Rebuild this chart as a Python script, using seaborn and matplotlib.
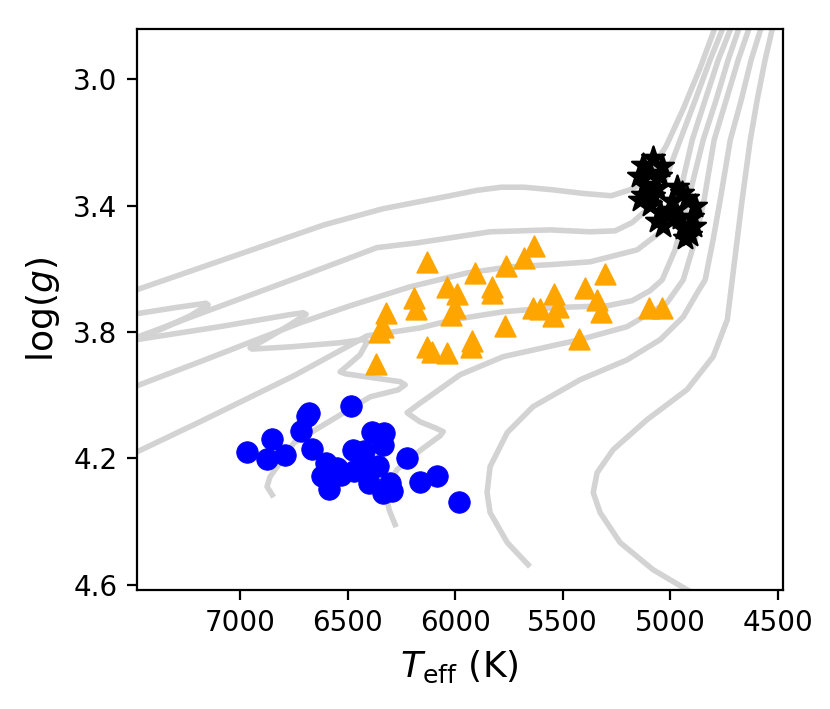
import matplotlib
matplotlib.use("Agg")
import matplotlib.pyplot as plt
import seaborn as sns

# evolutionary tracks (Teff in K, log g)
track1_teff = [7481, 6610, 6336, 6024, 5900, 5786, 5680, 5549, 5400, 5274, 5186, 5125, 5018, 4939, 4860, 4786]
track1_logg = [3.666, 3.461, 3.410, 3.369, 3.352, 3.342, 3.342, 3.350, 3.362, 3.369, 3.350, 3.328, 3.211,
               3.094, 2.964, 2.828]

track2_teff = [7560, 7481, 7304, 7160, 7150, 7234, 7374, 7537, 7188, 6722, 6364, 6177, 5838,
               5558, 5372, 5256, 5177, 5093, 5023, 4953, 4883, 4814, 4748]
track2_logg = [3.752, 3.742, 3.723, 3.709, 3.714, 3.749, 3.793, 3.831, 3.742, 3.625, 3.533, 3.518, 3.483,
               3.477, 3.483, 3.480, 3.454, 3.404, 3.318, 3.192, 3.066, 2.939, 2.828]

track3_teff = [7481, 7188, 6722, 6489, 6210, 5945, 5745, 5558, 5372, 5153, 5032, 4962, 4897, 4837, 4776, 4711]
track3_logg = [3.970, 3.894, 3.771, 3.717, 3.657, 3.613, 3.594, 3.587, 3.578, 3.540, 3.477, 3.382, 3.192,
               3.066, 2.939, 2.828]

track4_teff = [7481, 7188, 6750, 6410, 6164, 6010, 5777, 5544, 5293, 5177, 5093, 5037, 4977, 4916,
               4846, 4786, 4730, 4674]
track4_logg = [4.179, 4.084, 3.938, 3.812, 3.787, 3.761, 3.736, 3.723, 3.717, 3.701, 3.669, 3.635, 3.540,
               3.382, 3.192, 3.066, 2.939, 2.828]

hook_teff = [7537, 7481, 7095, 6769, 6708, 6694, 6769, 6885, 6955, 6945, 6769, 6536, 6433, 6410, 6443,
             6513, 6536, 6513, 6257, 6233, 6266, 6396, 6750, 6862, 6876, 6852]
hook_logg = [3.837, 3.824, 3.783, 3.745, 3.739, 3.744, 3.777, 3.824, 3.850, 3.854, 3.847, 3.834, 3.824,
             3.831, 3.872, 3.913, 3.926, 3.932, 3.957, 3.967, 3.983, 4.005, 4.150, 4.258, 4.289, 4.315]

track6_teff = [6280, 6308, 6326, 6271, 6164, 6070, 6056, 6094, 6164, 6219, 6224, 6164, 5977, 5777,
               5419, 5200, 5014, 4939, 4883, 4842, 4795, 4739, 4683, 4627]
track6_logg = [4.409, 4.362, 4.299, 4.235, 4.175, 4.128, 4.115, 4.103, 4.084, 4.058, 4.055, 4.025, 3.935,
               3.878, 3.824, 3.783, 3.707, 3.635, 3.508, 3.382, 3.192, 3.066, 2.939, 2.828]

track7_teff = [5661, 5758, 5838, 5852, 5838, 5758, 5638, 5419, 5200, 5046, 4939, 4874, 4837, 4800,
               4767, 4720, 4669, 4623, 4572]
track7_logg = [4.536, 4.466, 4.371, 4.308, 4.226, 4.118, 4.036, 3.951, 3.888, 3.824, 3.752, 3.676, 3.635,
               3.508, 3.382, 3.192, 3.066, 2.939, 2.828]

track8_teff = [4860, 5079, 5233, 5326, 5358, 5340, 5265, 5107, 4921, 4800, 4734, 4711, 4688, 4665,
               4627, 4595, 4558, 4520]
track8_logg = [4.640, 4.552, 4.466, 4.371, 4.308, 4.245, 4.172, 4.077, 3.982, 3.878, 3.761, 3.635, 3.508,
               3.382, 3.192, 3.066, 2.939, 2.828]

tracks = [
    (track1_teff, track1_logg), (track2_teff, track2_logg), (track3_teff, track3_logg),
    (track4_teff, track4_logg), (hook_teff, hook_logg), (track6_teff, track6_logg),
    (track7_teff, track7_logg), (track8_teff, track8_logg),
]

# dwarfs (blue circles)
dwarf_teff = [6969, 6878, 6852, 6791, 6720, 6688, 6681, 6667, 6486, 6602, 6621, 6586, 6534, 6478,
              6427, 6388, 6333, 6337, 6473, 6361, 6403, 6302, 6338, 6295, 6226, 6163, 6083, 5981,
              6550, 6424]
dwarf_logg = [4.181, 4.201, 4.139, 4.188, 4.114, 4.065, 4.056, 4.170, 4.034, 4.214, 4.254, 4.297,
              4.253, 4.173, 4.176, 4.116, 4.118, 4.157, 4.241, 4.223, 4.278, 4.278, 4.309, 4.304,
              4.200, 4.273, 4.257, 4.339, 4.229, 4.229]

# subgiants (orange triangles)
subgiant_teff = [6130, 5633, 5682, 5763, 5910, 6038, 5991, 6191, 6182, 5828, 5828, 6322, 6334, 6357,
                 6022, 6001, 5540, 5636, 5605, 5521, 5544, 5395, 5302, 5340, 5323, 5100, 5037, 5770,
                 5423, 6133, 6108, 6038, 5922, 5926, 6368]
subgiant_logg = [3.580, 3.529, 3.565, 3.590, 3.614, 3.658, 3.679, 3.693, 3.727, 3.657, 3.677, 3.740,
                 3.785, 3.799, 3.745, 3.723, 3.679, 3.724, 3.726, 3.720, 3.749, 3.661, 3.616, 3.698,
                 3.738, 3.723, 3.723, 3.782, 3.822, 3.848, 3.862, 3.866, 3.829, 3.847, 3.902]

# giants (black stars)
giant_teff = [5078, 5124, 5038, 5147, 5093, 5046, 5116, 5124, 5078, 5062, 5093, 5046, 4969, 4945,
              4922, 4992, 4977, 4883, 4899, 4953, 5062, 5031, 4938, 4891, 4930, 4906, 5008, 5139]
giant_logg = [3.250, 3.271, 3.276, 3.308, 3.297, 3.308, 3.334, 3.366, 3.371, 3.345, 3.398, 3.419,
              3.340, 3.361, 3.376, 3.387, 3.413, 3.403, 3.435, 3.440, 3.450, 3.466, 3.471, 3.466,
              3.503, 3.492, 3.429, 3.382]

x_ticks = [7000, 6500, 6000, 5500, 5000, 4500]
y_ticks = [3.0, 3.4, 3.8, 4.2, 4.6]

fig = plt.figure(figsize=(4.15, 3.545), dpi=200)
ax = fig.add_axes([0.1651, 0.1683, 0.7777, 0.7915])

for teff, logg in tracks:
    sns.lineplot(x=teff, y=logg, sort=False, estimator=None, color="lightgray",
                 linewidth=2, ax=ax, zorder=1)

sns.scatterplot(x=dwarf_teff, y=dwarf_logg, color="blue", marker="o", s=60,
                edgecolor="blue", linewidth=0.3, ax=ax, zorder=3)
sns.scatterplot(x=subgiant_teff, y=subgiant_logg, color="orange", marker="^", s=55,
                edgecolor="orange", linewidth=0.6, ax=ax, zorder=3)
sns.scatterplot(x=giant_teff, y=giant_logg, color="black", marker="*", s=75,
                edgecolor="black", linewidth=0.8, ax=ax, zorder=3)

ax.set_xlim(7481, 4477)
ax.set_ylim(4.615, 2.84)
ax.set_xticks(x_ticks)
ax.set_yticks(y_ticks)
ax.tick_params(labelsize=10)
ax.set_xlabel(r"$T_{\rm eff}$ (K)", fontsize=13)
ax.set_ylabel(r"$\log(g)$", fontsize=13)

fig.savefig("out.png", dpi=200)
